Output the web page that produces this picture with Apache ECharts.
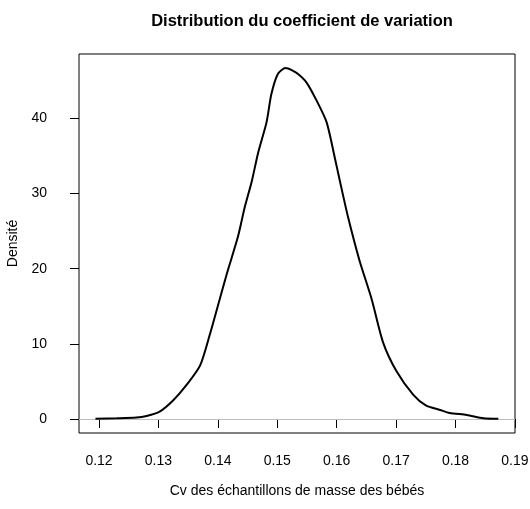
<!DOCTYPE html>
<html>
<head>
<meta charset="utf-8">
<script src="https://cdn.jsdelivr.net/npm/echarts@6/dist/echarts.min.js"></script>
<style>
html,body{margin:0;padding:0;background:#fff;}
#chart{width:530px;height:509px;}
</style>
</head>
<body>
<div id="chart"></div>
<script>
// Density curve of the coefficient of variation
var cvValues = [0.1194, 0.1230, 0.1263, 0.1280, 0.1302, 0.1325, 0.1347, 0.1370, 0.1386, 0.1403,
  0.1415, 0.1434, 0.1445, 0.1457, 0.1468, 0.1482, 0.1490, 0.1501, 0.1514, 0.1525,
  0.1535, 0.1549, 0.1566, 0.1583, 0.1597, 0.1605, 0.1619, 0.1638, 0.1659, 0.1678,
  0.1701, 0.1729, 0.1750, 0.1774, 0.1790, 0.1819, 0.1847, 0.1872];
var densityValues = [0.02, 0.08, 0.18, 0.40, 0.98, 2.5, 4.5, 7.1, 11.1, 15.9,
  19.3, 24.3, 28.1, 31.6, 35.5, 39.5, 43.2, 45.9, 46.7, 46.4,
  45.9, 44.8, 42.4, 39.5, 34.7, 31.8, 26.9, 21.2, 15.9, 10.2,
  6.3, 3.2, 1.8, 1.2, 0.8, 0.53, 0.10, 0.02];
var xTickValues = [0.12, 0.13, 0.14, 0.15, 0.16, 0.17, 0.18, 0.19];
var yTickValues = [0, 10, 20, 30, 40];

var titleText = 'Distribution du coefficient de variation';
var xAxisTitle = 'Cv des échantillons de masse des bébés';
var yAxisTitle = 'Densité';

var seriesData = cvValues.map(function (x, i) { return [x, densityValues[i]]; });

var font = '"Liberation Sans", Arial, Helvetica, sans-serif';
var chart = echarts.init(document.getElementById('chart'), null, {renderer: 'canvas'});
chart.setOption({
  animation: false,
  backgroundColor: '#ffffff',
  title: {
    text: titleText,
    left: 297,
    top: 8,
    textAlign: 'center',
    textStyle: {fontFamily: font, fontSize: 16.5, fontWeight: 'bold', color: '#000'}
  },
  grid: {
    left: 79, right: 15, top: 54, bottom: 76,
    containLabel: false,
    outerBoundsMode: 'none',
    show: true, borderColor: '#000', borderWidth: 1, backgroundColor: 'transparent'
  },
  xAxis: {
    type: 'value',
    min: 0.11663, max: 0.19001,
    name: xAxisTitle,
    nameLocation: 'middle',
    nameGap: 51,
    nameTextStyle: {fontFamily: font, fontSize: 14, color: '#000'},
    splitLine: {show: false},
    axisLine: {show: false},
    axisTick: {show: true, length: 9, lineStyle: {color: '#000', width: 1}, customValues: xTickValues},
    axisLabel: {
      fontFamily: font, fontSize: 14, color: '#000', margin: 21,
      customValues: xTickValues,
      formatter: function (v) { return v.toFixed(2); }
    }
  },
  yAxis: {
    type: 'value',
    min: -1.87, max: 48.57,
    name: yAxisTitle,
    nameLocation: 'middle',
    nameGap: 58,
    nameRotate: 90,
    nameTextStyle: {fontFamily: font, fontSize: 14, color: '#000'},
    splitLine: {show: false},
    axisLine: {show: false},
    axisTick: {show: true, length: 9, lineStyle: {color: '#000', width: 1}, customValues: yTickValues},
    axisLabel: {
      fontFamily: font, fontSize: 14, color: '#000', margin: 32,
      customValues: yTickValues,
      formatter: function (v) { return String(v); }
    }
  },
  series: [{
    type: 'line',
    data: seriesData,
    showSymbol: false,
    smooth: 0.25,
    lineStyle: {color: '#000', width: 2},
    z: 3,
    markLine: {
      silent: true,
      symbol: ['none', 'none'],
      label: {show: false},
      lineStyle: {color: '#bebebe', width: 1, type: 'solid'},
      data: [{yAxis: 0}],
      z: 1
    }
  }]
});
</script>
</body>
</html>
